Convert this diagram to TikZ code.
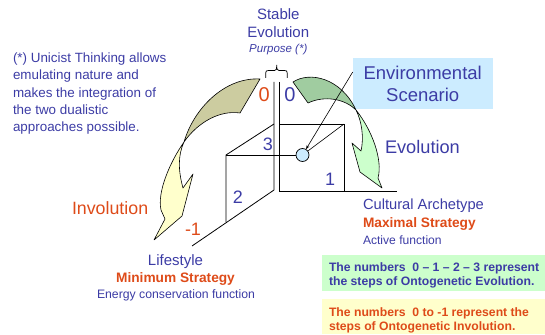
\documentclass[tikz,border=0pt]{standalone}
\usepackage{fontspec}
\setmainfont{Liberation Sans}
\usetikzlibrary{arrows.meta}
\definecolor{tblue}{RGB}{60,60,165}
\definecolor{torange}{RGB}{222,75,25}
\definecolor{envblue}{RGB}{204,236,255}
\definecolor{boxgreen}{RGB}{204,255,204}
\definecolor{boxyellow}{RGB}{255,255,204}
\definecolor{olivefill}{RGB}{204,204,160}
\definecolor{dgreen}{RGB}{160,204,160}
\definecolor{lgreen}{RGB}{204,255,204}
\definecolor{lyellow}{RGB}{255,255,204}
\definecolor{circfill}{RGB}{204,236,255}
\begin{document}
\begin{tikzpicture}[x=1pt,y=-1pt,
  txt/.style={inner sep=0pt, outer sep=0pt},
  bt/.style={txt, text=tblue},
  ot/.style={txt, text=torange},
  axis/.style={line width=0.8pt, black},
  bigarrow/.style={draw=black, line width=0.6pt, line join=round},
  fillbox/.style={draw=none, inner sep=0pt, outer sep=0pt, anchor=north west}]
\useasboundingbox (0,0) rectangle (545,334);

% background boxes
\node[fillbox, fill=envblue, minimum width=140pt, minimum height=50.7pt] (env) at (352.7,58) {};
\node[fillbox, fill=boxgreen, minimum width=223pt, minimum height=36pt] (gbox) at (322,255) {};
\node[fillbox, fill=boxyellow, minimum width=223pt, minimum height=35pt] (ybox) at (322,299) {};

% coordinates of the frame
\coordinate (vtopL) at (274,82);
\coordinate (vtopR) at (279,82);
\coordinate (vbotL) at (274,190);
\coordinate (vbotR) at (279,191);
\coordinate (sqTL) at (279,124);
\coordinate (sqTR) at (344,124);
\coordinate (sqBR) at (344,191);
\coordinate (axR) at (397,191);
\coordinate (sideTL) at (226,155);
\coordinate (sideBL) at (226,222);
\coordinate (axL) at (192,246);
\coordinate (envA) at (352.7,72);

% big curved arrows
\path[bigarrow, fill=olivefill] (260,79) .. controls (225,77) and (194,108) .. (184,142)
  .. controls (198,122) and (220,110) .. (240,113) -- cycle;
\path[bigarrow, fill=lyellow] (184,142) .. controls (170,162) and (157,192) .. (161,210)
  -- (165,219) -- (154,240) -- (182,216) -- (193,174) -- (183,188)
  .. controls (178,170) and (178,155) .. (184,142) -- cycle;
\path[bigarrow, fill=dgreen] (293,82) .. controls (310,71) and (341,78) .. (356,110)
  .. controls (345,99) and (325,95) .. (308,103) -- cycle;
\path[bigarrow, fill=lgreen] (356,110) .. controls (372,130) and (383,160) .. (378,178)
  -- (382,188) -- (360,172) -- (352,143) -- (361,151)
  .. controls (364,138) and (362,122) .. (356,110) -- cycle;

% frame lines
\draw[axis] (vtopL) -- (vbotL) -- (axL);
\draw[axis] (vtopR) -- (vbotR) -- (axR);
\draw[axis] (sqTL) -- (sqTR) -- (sqBR);
\draw[axis] (sideBL) -- (sideTL) -- (vbotL |- sqTL);

% brace
\draw[line width=0.7pt] (265.7,78) -- (265.7,73) .. controls (265.7,71) and (266.5,70.5) .. (268.5,70.5)
  -- (274.5,70.5) .. controls (276,70.5) and (276.7,69.5) .. (276.7,65)
  .. controls (276.7,69.5) and (277.4,70.5) .. (279,70.5) -- (284.5,70.5)
  .. controls (286.5,70.5) and (287.2,71) .. (287.2,73) -- (287.2,78);

% circle and its connectors
\node[circle, draw=black, line width=0.7pt, fill=circfill, minimum size=13pt, inner sep=0pt] (circ) at (302.5,155) {};
\draw[axis] (sideTL) -- (circ);
\draw[line width=0.6pt] (sqTR) -- (circ);
\draw[line width=0.6pt, -{Stealth[length=4pt,width=3pt]}] (envA) -- (circ);

% numbers
\node[ot, anchor=base, font=\fontsize{20}{22}\selectfont] (n0o) at (264.3,102) {0};
\node[bt, anchor=base, font=\fontsize{20}{22}\selectfont] (n0b) at (290,102) {0};
\node[bt, anchor=base, font=\fontsize{18}{20}\selectfont] (n3) at (268,150) {3};
\node[bt, anchor=base, font=\fontsize{18}{20}\selectfont] (n2) at (238,203) {2};
\node[bt, anchor=base, font=\fontsize{18}{20}\selectfont] (n1) at (330,185) {1};
\node[ot, anchor=base, font=\fontsize{18}{20}\selectfont] (nm1) at (193,235) {-1};

% top label
\node[bt, anchor=base, font=\fontsize{15}{17}\selectfont] (stab1) at (278.3,20) {Stable};
\node[bt, anchor=base, font=\fontsize{15}{17}\selectfont] (stab2) at (278.3,38) {Evolution};
\node[bt, anchor=base, font=\fontsize{11.5}{13}\selectfont\itshape] (purp) at (278.3,53) {Purpose (*)};

% note
\node[bt, anchor=base west, font=\fontsize{13.4}{15}\selectfont] (note1) at (13,63) {(*) Unicist Thinking allows};
\node[bt, anchor=base west, font=\fontsize{13.4}{15}\selectfont] (note2) at (13,80) {emulating nature and};
\node[bt, anchor=base west, font=\fontsize{13.4}{15}\selectfont] (note3) at (13,97) {makes the integration of};
\node[bt, anchor=base west, font=\fontsize{13.4}{15}\selectfont] (note4) at (13,114) {the two dualistic};
\node[bt, anchor=base west, font=\fontsize{13.4}{15}\selectfont] (note5) at (13,131) {approaches possible.};

% environmental scenario
\node[bt, anchor=base, font=\fontsize{18.5}{20}\selectfont] (envt1) at (422.7,80) {Environmental};
\node[bt, anchor=base, font=\fontsize{18.5}{20}\selectfont] (envt2) at (422.7,102) {Scenario};

% evolution / involution
\node[bt, anchor=base west, font=\fontsize{18.2}{20}\selectfont] (evo) at (385,153) {Evolution};
\node[ot, anchor=base west, font=\fontsize{17.8}{20}\selectfont] (invo) at (72,214) {Involution};

% cultural archetype
\node[bt, anchor=base west, font=\fontsize{14.7}{16}\selectfont] (ca1) at (363,209) {Cultural Archetype};
\node[ot, anchor=base west, font=\fontsize{13.7}{15}\selectfont\bfseries] (ca2) at (363,227) {Maximal Strategy};
\node[bt, anchor=base west, font=\fontsize{12.1}{14}\selectfont] (ca3) at (363,244) {Active function};

% lifestyle
\node[bt, anchor=base, font=\fontsize{15}{17}\selectfont] (ls1) at (175.5,265) {Lifestyle};
\node[ot, anchor=base, font=\fontsize{13.7}{15}\selectfont\bfseries] (ls2) at (175.5,282) {Minimum Strategy};
\node[bt, anchor=base, font=\fontsize{12.25}{14}\selectfont] (ls3) at (176,298) {Energy conservation function};

% box texts
\node[bt, anchor=base west, font=\fontsize{12.2}{14}\selectfont\bfseries] (g1) at (329,271) {The numbers\ \ 0 – 1 – 2 – 3 represent};
\node[bt, anchor=base west, font=\fontsize{12.2}{14}\selectfont\bfseries] (g2) at (329,285) {the steps of Ontogenetic Evolution.};
\node[ot, anchor=base west, font=\fontsize{12.2}{14}\selectfont\bfseries] (y1) at (329,316) {The numbers\ \ 0 to -1 represent the};
\node[ot, anchor=base west, font=\fontsize{12.2}{14}\selectfont\bfseries] (y2) at (329,330) {steps of Ontogenetic Involution.};
\end{tikzpicture}
\end{document}
